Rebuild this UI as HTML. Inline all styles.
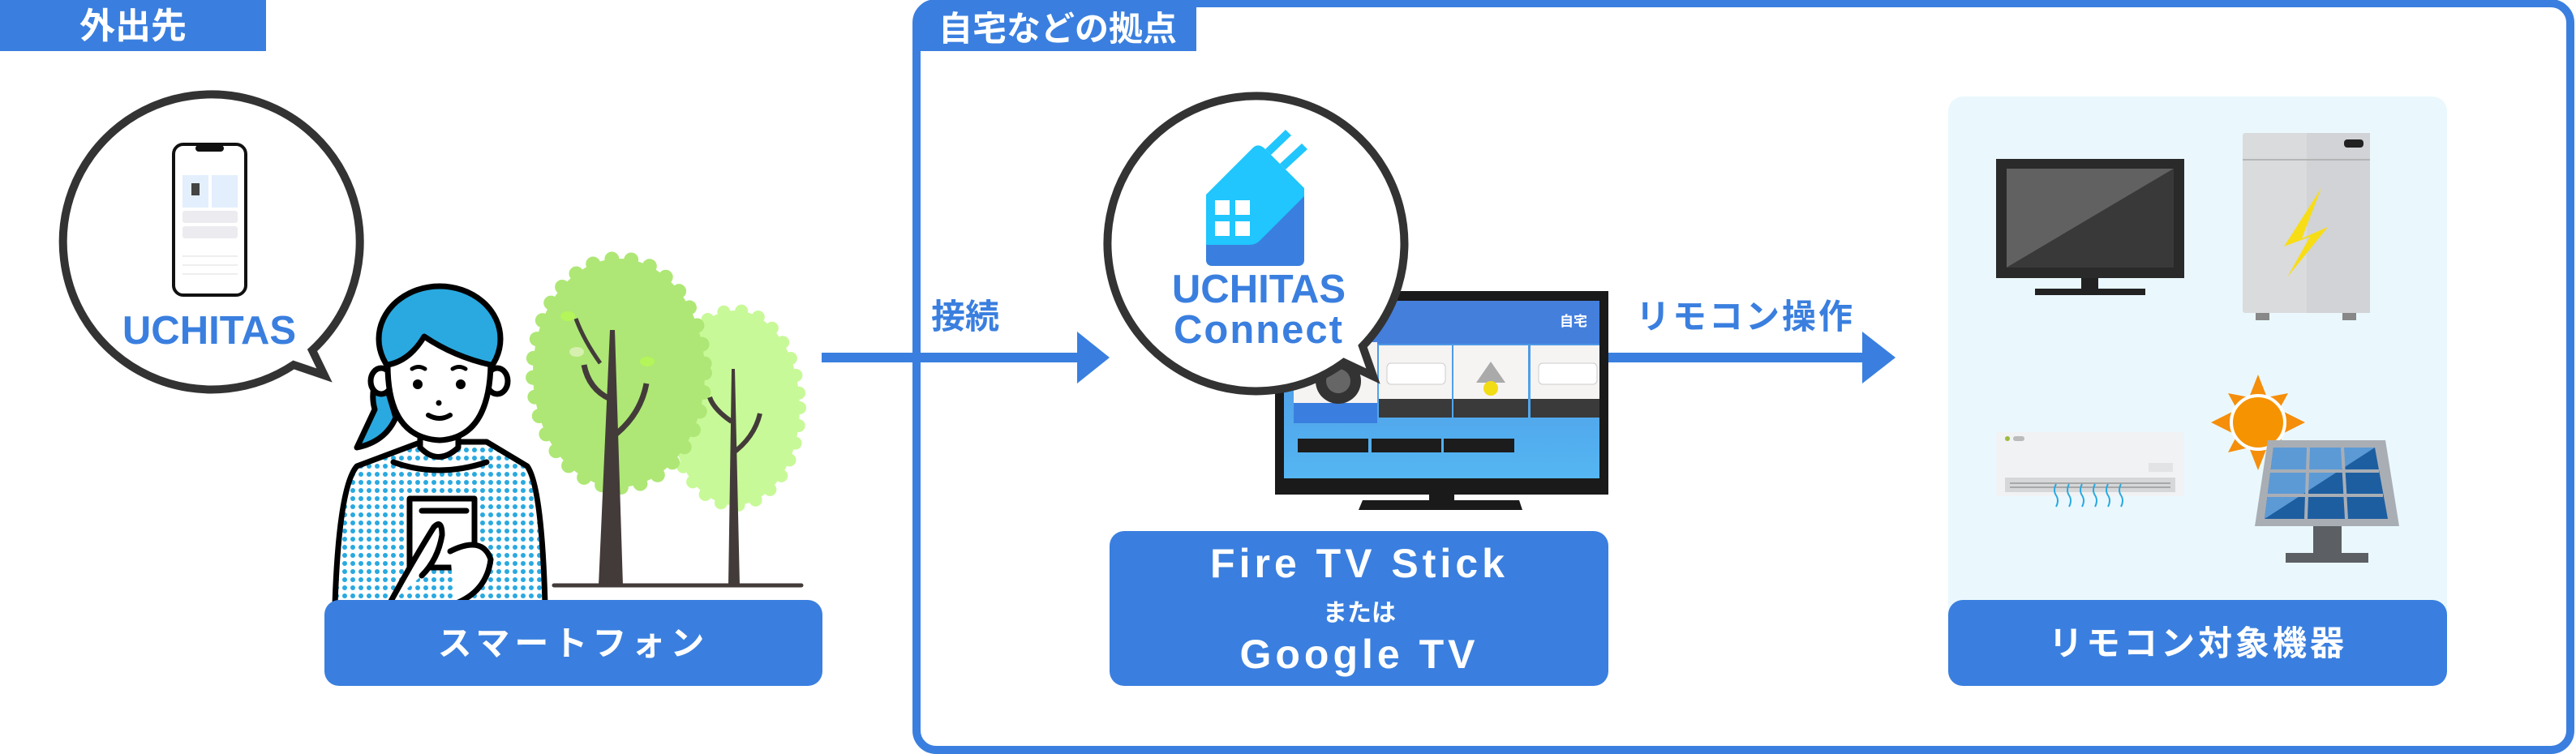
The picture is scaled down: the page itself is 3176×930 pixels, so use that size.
<!DOCTYPE html>
<html><head><meta charset="utf-8"><style>
html,body{margin:0;padding:0;background:#fff}
svg{display:block}
text{font-family:"Liberation Sans","Noto Sans CJK JP",sans-serif;font-weight:700}
</style></head><body>
<svg width="3176" height="930" viewBox="0 0 3176 930" xmlns="http://www.w3.org/2000/svg">
<defs>
<pattern id="dots" width="10" height="10" patternUnits="userSpaceOnUse">
<circle cx="5" cy="5" r="3" fill="#29a9e0"/></pattern>
<linearGradient id="scr" x1="0" y1="0" x2="0" y2="1">
<stop offset="0" stop-color="#4a8fe2"/><stop offset="1" stop-color="#55b6f2"/></linearGradient>
</defs>

<rect x="0" y="0" width="328" height="63" fill="#3a7fdf"/>
<text x="164" y="47" font-size="44" fill="#fff" text-anchor="middle">外出先</text>

<rect x="1130" y="4" width="2039" height="921" rx="24" fill="none" stroke="#3a7fdf" stroke-width="10"/>
<rect x="1134" y="9" width="341" height="54" fill="#3a7fdf"/>
<text x="1304" y="50" font-size="42" fill="#fff" text-anchor="middle">自宅などの拠点</text>

<g>
<ellipse cx="906" cy="503" rx="80" ry="120" fill="#c8f998" stroke="#c8f998" stroke-width="16" stroke-dasharray="0 22" stroke-linecap="round"/>
<ellipse cx="763" cy="460" rx="106" ry="141" fill="#aee775" stroke="#aee775" stroke-width="18" stroke-dasharray="0 24" stroke-linecap="round"/>
<path d="M898 722 L902 455 L906 455 L912 722 Z" fill="#433b39"/>
<path d="M902 560 Q930 540 937 510" stroke="#433b39" stroke-width="6" fill="none"/>
<path d="M902 520 Q880 505 875 490" stroke="#433b39" stroke-width="6" fill="none"/>
<path d="M738 722 L752 407 L758 407 L768 722 Z" fill="#433b39"/>
<path d="M760 535 Q790 510 797 473" stroke="#433b39" stroke-width="7" fill="none"/>
<path d="M752 492 Q726 480 720 450" stroke="#433b39" stroke-width="7" fill="none"/>
<path d="M740 448 Q720 420 710 393" stroke="#433b39" stroke-width="5" fill="none"/>
<ellipse cx="700" cy="390" rx="9" ry="6" fill="#b4f55a"/><ellipse cx="711" cy="434" rx="9" ry="6" fill="#d6f0b0"/><ellipse cx="798" cy="446" rx="9" ry="6" fill="#b4f55a"/>
<line x1="683" y1="722" x2="988" y2="722" stroke="#433b39" stroke-width="5" stroke-linecap="round"/>
</g>

<g stroke="#000" stroke-width="7" stroke-linejoin="round" stroke-linecap="round">
<path d="M413 745 Q418 600 440 575 L520 545 L600 545 L650 575 Q668 600 672 745 Z" fill="url(#dots)"/>
<path d="M485 570 Q540 590 600 570" fill="#fff"/>
<path d="M518 535 L518 552 Q540 575 565 552 L565 535 Z" fill="#fff"/>
<path d="M470 455 Q455 480 462 505 L440 552 Q475 545 488 515 Z" fill="#29a9e0"/>
<ellipse cx="542" cy="418" rx="75" ry="65" fill="#29a9e0"/>
<ellipse cx="470" cy="470" rx="13" ry="16" fill="#fff"/>
<ellipse cx="613" cy="470" rx="13" ry="16" fill="#fff"/>
<path d="M478 450 Q478 540 542 543 Q603 540 605 450 Q560 440 523 415 Q505 445 478 450 Z" fill="#fff"/>
<path d="M505 615 L585 615 L585 700 L505 700 Z" fill="#fff"/>
<path d="M520 630 L575 630" />
<path d="M480 745 Q510 690 535 650 Q545 640 545 660 Q540 690 520 710" fill="#fff"/>
<path d="M555 680 Q595 660 605 690 Q600 730 560 745" fill="#fff"/>
</g>
<circle cx="515" cy="474" r="6"/><circle cx="568" cy="474" r="6"/><circle cx="541" cy="497" r="3.5"/>
<path d="M528 512 Q542 520 555 512" stroke="#000" stroke-width="6" fill="none" stroke-linecap="round"/>
<path d="M508 455 Q516 450 524 455 M558 455 Q566 450 574 455" stroke="#000" stroke-width="5" fill="none" stroke-linecap="round"/>

<path d="M385 432 A183 182 0 1 0 362 450 L400 463 Z" fill="#fff" stroke="#333" stroke-width="10" stroke-linejoin="miter"/>
<rect x="214" y="178" width="89" height="186" rx="12" fill="#fff" stroke="#111" stroke-width="4"/>
<rect x="241" y="179" width="35" height="8" rx="4" fill="#111"/>
<rect x="225" y="216" width="32" height="40" fill="#e3effd"/><rect x="261" y="216" width="32" height="40" fill="#e3effd"/>
<rect x="225" y="260" width="68" height="15" rx="3" fill="#ececf0"/>
<rect x="225" y="279" width="68" height="15" rx="3" fill="#ececf0"/>
<rect x="236" y="226" width="10" height="15" fill="#444"/>
<g stroke="#ddd" stroke-width="1"><line x1="225" y1="316" x2="293" y2="316"/><line x1="225" y1="327" x2="293" y2="327"/><line x1="225" y1="338" x2="293" y2="338"/></g>
<text x="258" y="424" font-size="49" fill="#3a7fdf" text-anchor="middle" style="font-weight:600">UCHITAS</text>

<rect x="400" y="740" width="614" height="106" rx="18" fill="#3a7fdf"/>
<text x="707" y="808" font-size="42" fill="#fff" text-anchor="middle" letter-spacing="6">スマートフォン</text>

<rect x="1013" y="435" width="315" height="12" fill="#3a7fdf"/>
<polygon points="1328,409 1368,441 1328,473" fill="#3a7fdf"/>
<text x="1190" y="405" font-size="42" fill="#3a7fdf" text-anchor="middle">接続</text>

<rect x="1572" y="359" width="411" height="251" fill="#1a1a1a"/>
<rect x="1583" y="371" width="389" height="219" fill="url(#scr)"/>
<rect x="1583" y="371" width="389" height="53" fill="#447fdc"/>
<text x="1940" y="402" font-size="17" fill="#fff" text-anchor="middle" font-weight="400">自宅</text>
<rect x="1762" y="610" width="31" height="10" fill="#1a1a1a"/>
<polygon points="1680,617 1873,617 1877,629 1675,629" fill="#1a1a1a"/>
<g>
<rect x="1595" y="422" width="103" height="100" fill="#f6f3f3"/><rect x="1595" y="497" width="103" height="25" fill="#3a7fdf"/>
<circle cx="1650" cy="470" r="28" fill="#333"/><circle cx="1650" cy="470" r="15" fill="#666"/>
<rect x="1700" y="426" width="90" height="89" fill="#f6f3f3"/><rect x="1700" y="492" width="90" height="23" fill="#3a3a3a"/>
<rect x="1710" y="448" width="72" height="26" rx="5" fill="#fff" stroke="#ccc"/>
<rect x="1792" y="426" width="92" height="89" fill="#f6f3f3"/><rect x="1792" y="492" width="92" height="23" fill="#3a3a3a"/>
<polygon points="1838,446 1820,472 1856,472" fill="#aaa"/><circle cx="1838" cy="479" r="9" fill="#f2dc14"/>
<rect x="1887" y="426" width="85" height="89" fill="#f6f3f3"/><rect x="1887" y="492" width="85" height="23" fill="#3a3a3a"/>
<rect x="1897" y="448" width="72" height="26" rx="5" fill="#fff" stroke="#ccc"/>
<rect x="1600" y="541" width="87" height="17" fill="#1c1c1c"/><rect x="1691" y="541" width="86" height="17" fill="#1c1c1c"/><rect x="1780" y="541" width="87" height="17" fill="#1c1c1c"/>
</g>

<path d="M1680 427 A183 182 0 1 0 1657 447 L1693 464 Z" fill="#fff" stroke="#333" stroke-width="10"/>
<path d="M1487 240 L1545 182 Q1552 176 1560 184 L1608 232 L1608 320 Q1608 328 1600 328 L1495 328 Q1487 328 1487 320 Z" fill="#20c6fd"/>
<path d="M1608 242 L1552 298 Q1547 302 1540 302 L1487 302 L1487 320 Q1487 328 1495 328 L1600 328 Q1608 328 1608 320 Z" fill="#3a7fdf"/>
<path d="M1560 184 L1585 160 L1592 167 L1567 191 Z M1578 202 L1605 177 L1612 184 L1585 209 Z" fill="#20c6fd"/>
<rect x="1498" y="247" width="18" height="18" fill="#fff"/><rect x="1523" y="247" width="18" height="18" fill="#fff"/>
<rect x="1498" y="273" width="18" height="18" fill="#fff"/><rect x="1523" y="273" width="18" height="18" fill="#fff"/>
<text x="1552" y="373" font-size="49" fill="#3a7fdf" text-anchor="middle" style="font-weight:600">UCHITAS</text>
<text x="1552" y="423" font-size="49" fill="#3a7fdf" text-anchor="middle" style="font-weight:600" letter-spacing="2">Connect</text>

<rect x="1368" y="655" width="615" height="191" rx="18" fill="#3a7fdf"/>
<text x="1676" y="712" font-size="50" fill="#fff" text-anchor="middle" letter-spacing="5" style="font-weight:600">Fire TV Stick</text>
<text x="1676" y="766" font-size="30" fill="#fff" text-anchor="middle">または</text>
<text x="1676" y="824" font-size="50" fill="#fff" text-anchor="middle" letter-spacing="5" style="font-weight:600">Google TV</text>

<rect x="1983" y="435" width="313" height="12" fill="#3a7fdf"/>
<polygon points="2296,409 2337,441 2296,473" fill="#3a7fdf"/>
<text x="2152" y="405" font-size="42" fill="#3a7fdf" text-anchor="middle" letter-spacing="3">リモコン操作</text>

<rect x="2402" y="119" width="615" height="727" rx="18" fill="#eaf8fe"/>
<rect x="2461" y="196" width="232" height="147" fill="#2a2a2a"/>
<polygon points="2474,208 2680,208 2474,330" fill="#616161"/>
<polygon points="2680,208 2680,330 2474,330" fill="#393939"/>
<rect x="2566" y="343" width="21" height="13" fill="#222"/>
<rect x="2509" y="356" width="136" height="8" fill="#222"/>
<rect x="2765" y="164" width="157" height="222" rx="3" fill="#dadbdd"/>
<rect x="2844" y="164" width="78" height="222" fill="#d2d3d6"/>
<line x1="2765" y1="197" x2="2922" y2="197" stroke="#aaa" stroke-width="1.5"/>
<rect x="2890" y="172" width="24" height="10" rx="4" fill="#222"/>
<rect x="2781" y="386" width="17" height="9" fill="#888"/><rect x="2888" y="386" width="17" height="9" fill="#888"/>
<polygon points="2862,232 2838,294 2870,280 2820,342 2848,292 2816,304" fill="#f7dd15"/>
<rect x="2461" y="533" width="232" height="79" rx="3" fill="#f1f2f4"/>
<rect x="2472" y="589" width="210" height="18" fill="#d6d7d9"/>
<line x1="2478" y1="596" x2="2676" y2="596" stroke="#999" stroke-width="1.5"/><line x1="2478" y1="601" x2="2676" y2="601" stroke="#999" stroke-width="1.5"/>
<circle cx="2475" cy="541" r="3" fill="#9bbb3a"/><rect x="2482" y="538" width="14" height="6" rx="3" fill="#bbb"/>
<rect x="2649" y="571" width="30" height="11" fill="#e2e3e5"/>
<g stroke="#29a9e0" stroke-width="2" fill="none">
<path d="M2535 625 q4 -8 0 -14 q-4 -6 0 -14"/><path d="M2551 625 q4 -8 0 -14 q-4 -6 0 -14"/><path d="M2567 625 q4 -8 0 -14 q-4 -6 0 -14"/><path d="M2583 625 q4 -8 0 -14 q-4 -6 0 -14"/><path d="M2599 625 q4 -8 0 -14 q-4 -6 0 -14"/><path d="M2615 625 q4 -8 0 -14 q-4 -6 0 -14"/>
</g>
<polygon points="2784,462 2795,490 2821,485 2810,505 2842,521 2810,537 2821,558 2795,552 2784,580 2773,552 2747,558 2758,537 2726,521 2758,505 2747,485 2773,490" fill="#f58e0a"/>
<circle cx="2784" cy="521" r="33" fill="#f59300" stroke="#fff" stroke-width="4"/>
<polygon points="2796,543 2941,543 2958,649 2780,649" fill="#a9aeb5"/>
<polygon points="2803,552 2928,552 2944,640 2792,640" fill="#1d5ea0"/>
<polygon points="2803,552 2928,552 2792,640" fill="#5c9ad6"/>
<g stroke="#a9aeb5" stroke-width="4"><line x1="2846" y1="552" x2="2843" y2="640"/><line x1="2888" y1="552" x2="2893" y2="640"/><line x1="2798" y1="581" x2="2933" y2="581"/><line x1="2795" y1="611" x2="2938" y2="611"/></g>
<rect x="2852" y="649" width="35" height="33" fill="#5c6065"/>
<rect x="2818" y="682" width="102" height="12" fill="#5c6065"/>
<rect x="2402" y="740" width="615" height="106" rx="18" fill="#3a7fdf"/>
<text x="2710" y="808" font-size="42" fill="#fff" text-anchor="middle" letter-spacing="4">リモコン対象機器</text>
</svg>
</body></html>
